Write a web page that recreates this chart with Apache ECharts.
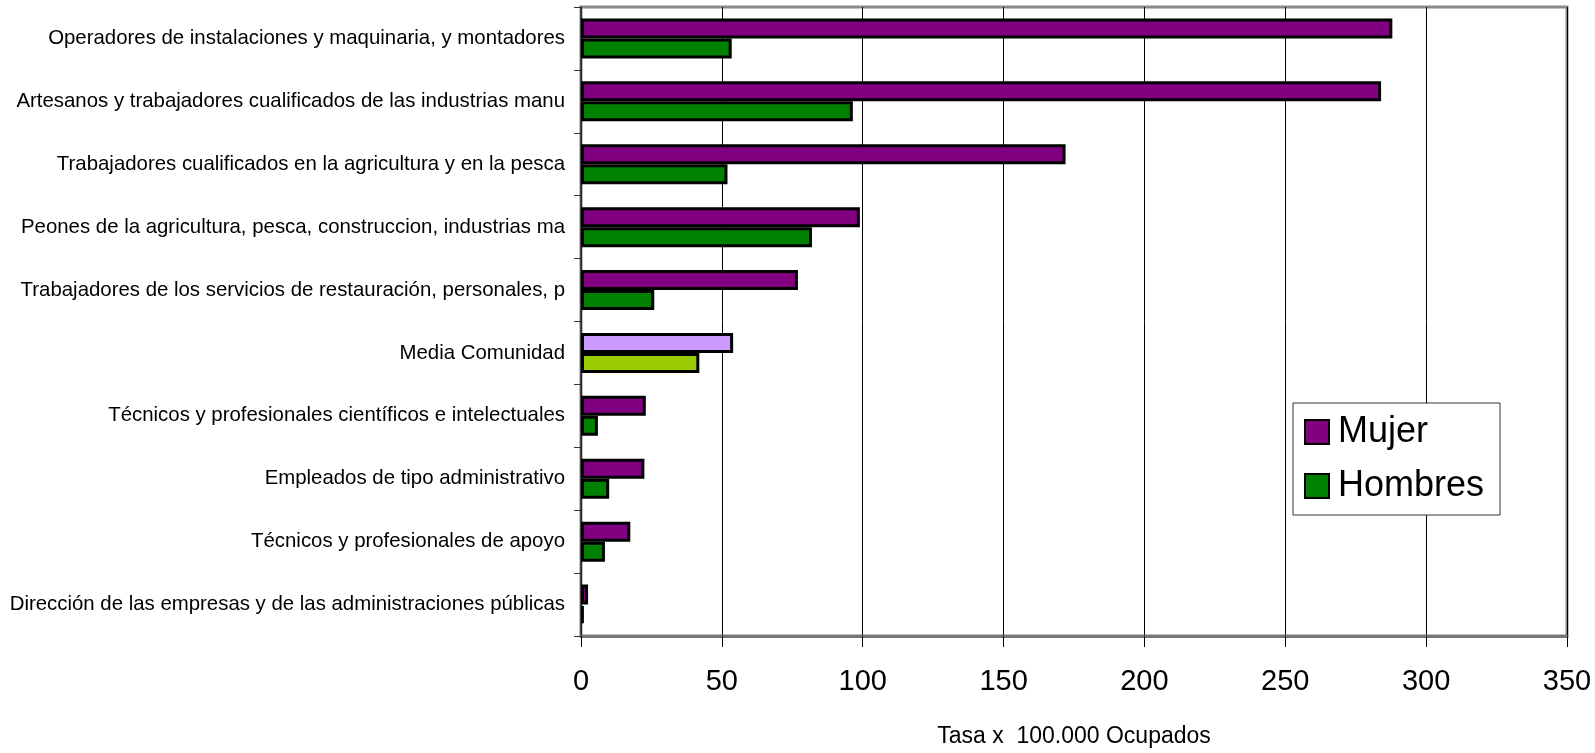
<!DOCTYPE html>
<html>
<head>
<meta charset="utf-8">
<script src="https://cdn.jsdelivr.net/npm/echarts@6/dist/echarts.min.js"></script>
<style>
html,body{margin:0;padding:0;background:#fff;}
#chart{width:1595px;height:753px;}
</style>
</head>
<body>
<div id="chart"></div>
<script>
const categories = [
  "Operadores de instalaciones y maquinaria, y montadores",
  "Artesanos y trabajadores cualificados de las industrias manu",
  "Trabajadores cualificados en la agricultura y en la pesca",
  "Peones de la agricultura, pesca, construccion, industrias ma",
  "Trabajadores de los servicios de restauración, personales, p",
  "Media Comunidad",
  "Técnicos y profesionales científicos e intelectuales",
  "Empleados de tipo administrativo",
  "Técnicos y profesionales de apoyo",
  "Dirección de las empresas y de las administraciones públicas"
];
const mujer   = [288, 284, 172, 99, 77, 54, 23, 22.5, 17.5, 2.5];
const hombres = [53.5, 96.5, 52, 82, 26, 42, 6, 10, 8.5, 1];
const highlightCategory = "Media Comunidad";
const xTicks = [0, 50, 100, 150, 200, 250, 300, 350];

const FONT = "'Liberation Sans', Arial, sans-serif";
const colors = {
  mujer: "#800080", hombres: "#008000",
  mujerMedia: "#CC99FF", hombresMedia: "#99CC00"
};

function build(values, special) {
  return values.map((v, i) => categories[i] === highlightCategory
    ? { value: v, itemStyle: { color: special } }
    : v);
}

const chart = echarts.init(document.getElementById('chart'));
chart.setOption({
  animation: false,
  backgroundColor: '#fff',
  grid: {
    left: 581, right: 28, top: 7, bottom: 117,
    outerBoundsMode: 'none',
    containLabel: false,
    show: true, borderColor: '#888', borderWidth: 3, backgroundColor: 'transparent'
  },
  legend: {
    orient: 'vertical',
    left: 1293, top: 403,
    padding: [11, 16, 11, 11],
    backgroundColor: '#fff',
    borderColor: '#333', borderWidth: 1,
    itemWidth: 24, itemHeight: 24,
    itemGap: 18,
    icon: 'rect',
    textStyle: { fontFamily: FONT, fontSize: 36, color: '#000', padding: [0, 0, 0, 4] },
    data: ['Mujer', 'Hombres']
  },
  xAxis: {
    type: 'value',
    min: xTicks[0], max: xTicks[xTicks.length - 1], interval: 50,
    name: 'Tasa x  100.000 Ocupados',
    nameLocation: 'middle', nameGap: 89,
    nameTextStyle: { fontFamily: FONT, fontSize: 23, color: '#000' },
    axisLine: { show: true, lineStyle: { color: '#777', width: 3 } },
    axisTick: { show: true, length: 11, lineStyle: { color: '#000', width: 1 } },
    axisLabel: { fontFamily: FONT, fontSize: 29, color: '#000', margin: 31 },
    splitLine: { show: true, lineStyle: { color: '#000', width: 1 } }
  },
  yAxis: {
    type: 'category',
    inverse: true,
    data: categories,
    axisLine: { show: true, lineStyle: { color: '#333', width: 1.5 } },
    axisTick: { show: true, length: 7, lineStyle: { color: '#333', width: 1 } },
    axisLabel: { fontFamily: FONT, fontSize: 20.4, color: '#000', margin: 16 },
    splitLine: { show: false }
  },
  series: [
    {
      name: 'Mujer', type: 'bar',
      data: build(mujer, colors.mujerMedia),
      barWidth: 20, barGap: '0%',
      itemStyle: { color: colors.mujer, borderColor: '#000', borderWidth: 3 }
    },
    {
      name: 'Hombres', type: 'bar',
      data: build(hombres, colors.hombresMedia),
      barWidth: 20, barGap: '0%',
      itemStyle: { color: colors.hombres, borderColor: '#000', borderWidth: 3 }
    }
  ]
});
</script>
</body>
</html>
